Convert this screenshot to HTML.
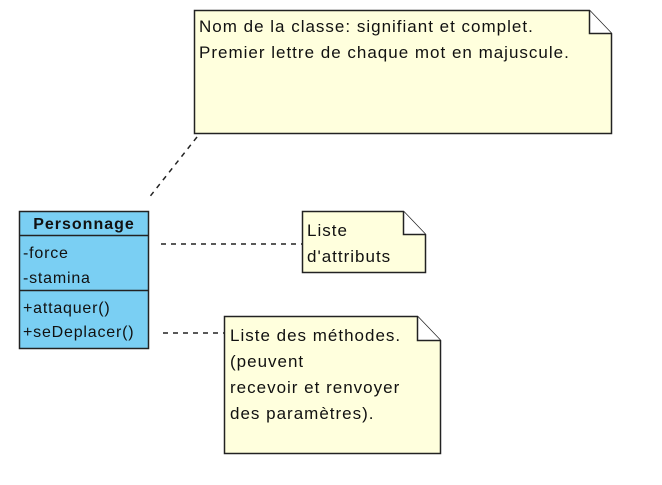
<!DOCTYPE html>
<html><head><meta charset="utf-8"><style>
html,body{margin:0;padding:0;background:#fff;width:662px;height:485px;overflow:hidden}
svg{display:block}
text{font-family:"Liberation Sans",Arial,sans-serif;font-size:17px;fill:#111;letter-spacing:1px}
text.c{font-size:16px;letter-spacing:0.8px}
</style></head><body>
<svg width="662" height="485" viewBox="0 0 662 485">
<g stroke="#222" stroke-width="1.5" stroke-dasharray="5,5" fill="none">
<line x1="197" y1="137" x2="148" y2="199"/>
<line x1="161" y1="244" x2="303" y2="244"/>
<line x1="163" y1="333" x2="224" y2="333"/>
</g>
<path d="M194.5 10.5 H589.5 L611.5 33.5 V133.5 H194.5 Z" fill="#ffffdd" stroke="#222" stroke-width="1.5"/>
<path d="M589.5 10.5 V33.5 H611.5" fill="#fff" stroke="#222" stroke-width="1.5"/>
<text x="199" y="32">Nom de la classe: signifiant et complet.</text>
<text x="199" y="58">Premier lettre de chaque mot en majuscule.</text>
<rect x="19.5" y="211.5" width="129" height="137" fill="#7acff3" stroke="#222" stroke-width="1.5"/>
<line x1="19.5" y1="235.5" x2="148.5" y2="235.5" stroke="#222" stroke-width="1.5"/>
<line x1="19.5" y1="290.5" x2="148.5" y2="290.5" stroke="#222" stroke-width="1.5"/>
<text class="c" x="84" y="229" text-anchor="middle" style="font-weight:bold;letter-spacing:1px">Personnage</text>
<text class="c" x="23" y="258">-force</text>
<text class="c" x="23" y="283">-stamina</text>
<text class="c" x="23" y="313">+attaquer()</text>
<text class="c" x="23" y="337">+seDeplacer()</text>
<path d="M302.5 211.5 H403.5 L425.5 234.5 V272.5 H302.5 Z" fill="#ffffdd" stroke="#222" stroke-width="1.5"/>
<path d="M403.5 211.5 V234.5 H425.5" fill="#fff" stroke="#222" stroke-width="1.5"/>
<text x="307" y="236">Liste</text>
<text x="307" y="262">d'attributs</text>
<path d="M224.5 316.5 H417.5 L440.5 340.5 V453.5 H224.5 Z" fill="#ffffdd" stroke="#222" stroke-width="1.5"/>
<path d="M417.5 316.5 V340.5 H440.5" fill="#fff" stroke="#222" stroke-width="1.5"/>
<text x="230" y="341">Liste des méthodes.</text>
<text x="230" y="367">(peuvent</text>
<text x="230" y="393">recevoir et renvoyer</text>
<text x="230" y="419">des paramètres).</text>
</svg>
</body></html>
